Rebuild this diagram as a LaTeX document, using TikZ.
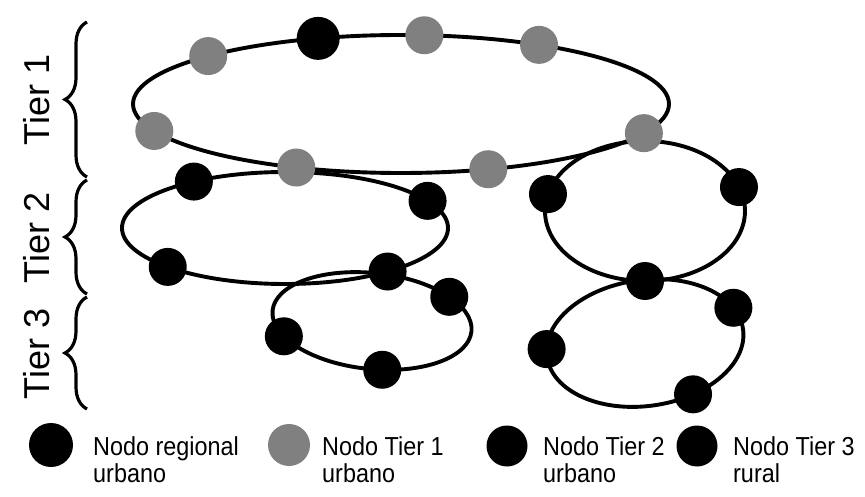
\documentclass[tikz,border=0pt]{standalone}
\usepackage{fontspec}
\setmainfont{Liberation Sans}
\newfontfamily\legfont[FakeStretch=0.9]{Liberation Sans}
\usetikzlibrary{decorations.pathreplacing}
\begin{document}
\begin{tikzpicture}[x=1pt,y=-1pt,
  ring/.style={line width=3.9pt},
  bnode/.style={circle,fill=black,inner sep=0pt,minimum size=38pt},
  rnode/.style={circle,fill=black,inner sep=0pt,minimum size=43pt},
  gnode/.style={circle,fill=black!50,inner sep=0pt,minimum size=38pt},
  tierbrace/.style={line width=3.2pt,decorate,decoration={brace,amplitude=22pt}},
  tierlabel/.style={rotate=90,font=\fontsize{36}{40}\selectfont,inner sep=0pt},
  legtext/.style={anchor=north west,align=left,inner sep=0pt,font=\legfont\fontsize{26}{27}\selectfont}]
\useasboundingbox (0,0) rectangle (865,497);

% rings
\draw[ring] (401,104) ellipse [x radius=268pt, y radius=69pt];
\draw[ring] (285,228) ellipse [x radius=163pt, y radius=56pt];
\begin{scope}[shift={(372,321)},rotate=-6]
  \draw[ring] (0,0) ellipse [x radius=100pt, y radius=48pt];
\end{scope}
\draw[ring] (645,211) ellipse [x radius=100pt, y radius=70pt];
\begin{scope}[shift={(645,343)},rotate=8]
  \draw[ring] (0,0) ellipse [x radius=99pt, y radius=63pt];
\end{scope}

% Tier 1 ring nodes
\begin{scope}[shift={(401,104)}]
  \node[gnode] (n1) at (-203:268 and 69) {};
  \node[gnode] (n2) at (-136:268 and 69) {};
  \node[rnode] (reg) at (-108:268 and 69) {};
  \node[gnode] (n3) at (-85:268 and 69) {};
  \node[gnode] (n4) at (-59:268 and 69) {};
  \node[gnode] (n5) at (-335:268 and 69) {};
  \node[gnode] (n6) at (-289:268 and 69) {};
  \node[gnode] (n7) at (-247:268 and 69) {};
\end{scope}
% Tier 2 left ring
\begin{scope}[shift={(285,228)}]
  \node[bnode] (b1) at (-124:163 and 56) {};
  \node[bnode] (b2) at (-29:163 and 56) {};
  \node[bnode] (b3) at (-224:163 and 56) {};
  \node[bnode] (b4) at (-309:163 and 56) {};
\end{scope}
% Tier 3 left ring
\begin{scope}[shift={(372,321)},rotate=-6]
  \node[bnode] (c1) at (-42:100 and 48) {};
  \node[bnode] (c2) at (-210.6:100 and 48) {};
  \node[bnode] (c3) at (-278.8:100 and 48) {};
\end{scope}
% Tier 2 right ring
\begin{scope}[shift={(645,211)}]
  \node[bnode] (d1) at (-166:100 and 70) {};
  \node[bnode] (d2) at (-20:100 and 70) {};
  \node[bnode] (x1) at (-270:100 and 70) {};
\end{scope}
% Tier 3 right ring
\begin{scope}[shift={(645,343)},rotate=8]
  \node[bnode] (e1) at (-173:99 and 63) {};
  \node[bnode] (e2) at (-21:99 and 63) {};
  \node[bnode] (e3) at (-294.1:99 and 63) {};
\end{scope}

% braces and tier labels
\draw[tierbrace] (87,177) -- (87,22);
\draw[tierbrace] (87,294) -- (87,180);
\draw[tierbrace] (87,409) -- (87,297);
\node[tierlabel] (t1) at (37,100) {Tier 1};
\node[tierlabel] (t2) at (37,238) {Tier 2};
\node[tierlabel] (t3) at (37,354) {Tier 3};

% legend
\node[rnode,minimum size=44pt] (l1) at (51,445) {};
\node[legtext] (lt1) at (93,436) {Nodo regional\\urbano};
\node[gnode,minimum size=42pt] (l2) at (289,445) {};
\node[legtext] (lt2) at (322,436) {Nodo Tier 1\\urbano};
\node[bnode,minimum size=41pt] (l3) at (507,446) {};
\node[legtext] (lt3) at (543,436) {Nodo Tier 2\\urbano};
\node[bnode,minimum size=41pt] (l4) at (697,446) {};
\node[legtext] (lt4) at (733,436) {Nodo Tier 3\\rural};
\end{tikzpicture}
\end{document}
